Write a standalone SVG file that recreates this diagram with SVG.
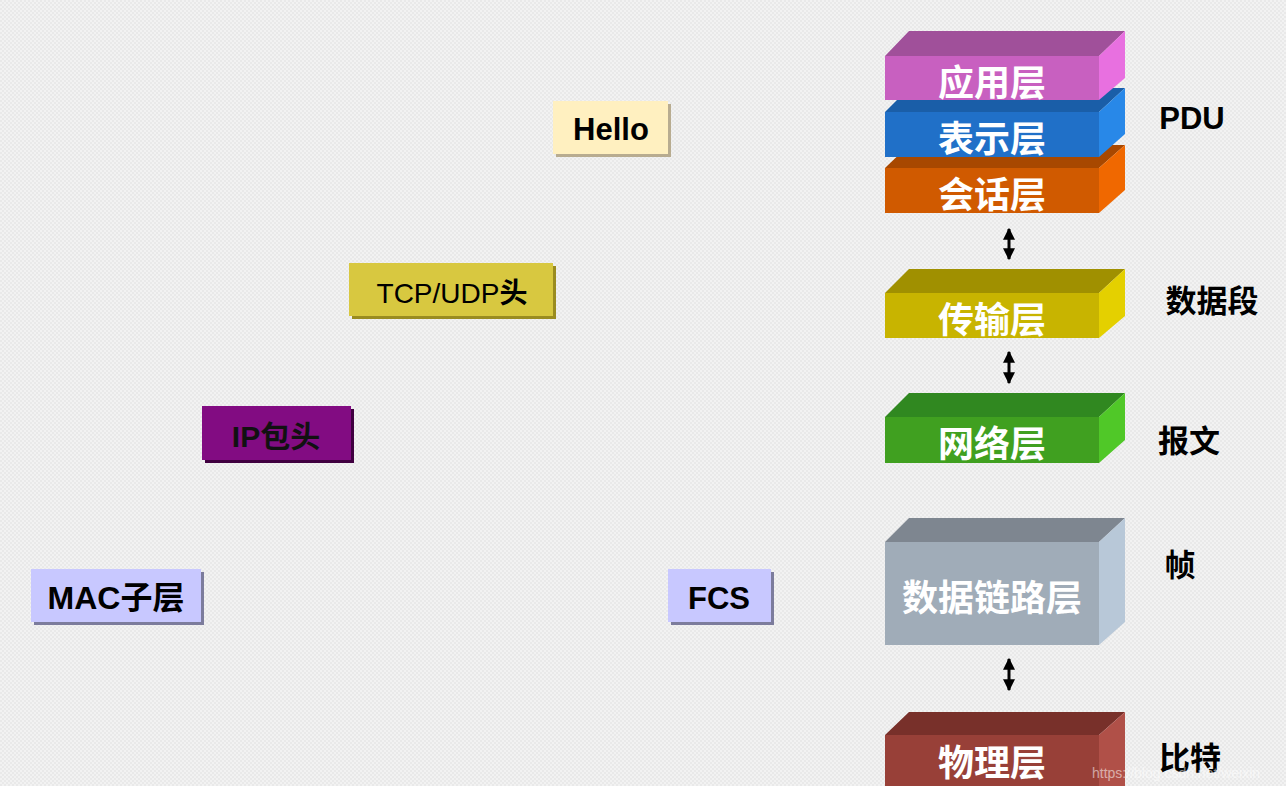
<svg xmlns="http://www.w3.org/2000/svg" width="1286" height="786" viewBox="0 0 1286 786">
<defs>
<pattern id="bg" width="4" height="4" patternUnits="userSpaceOnUse">
<rect width="4" height="4" fill="#f2f2f2"/>
<rect width="2" height="2" fill="#e9e9e9"/>
<rect x="2" y="2" width="2" height="2" fill="#e9e9e9"/>
</pattern>
<marker id="ah" viewBox="0 0 10 10" refX="9" refY="5" markerWidth="4" markerHeight="4" orient="auto-start-reverse">
<path d="M0,0 L10,5 L0,10 z" fill="#000"/>
</marker>
</defs>
<style>
.lt{font-family:"Liberation Sans","Noto Sans CJK SC",sans-serif;font-weight:bold;font-size:36px;fill:#fff;text-anchor:middle}
.bt{font-family:"Liberation Sans","Noto Sans CJK SC",sans-serif;font-weight:bold;font-size:31px;fill:#000;text-anchor:middle}
.rt{font-family:"Liberation Sans","Noto Sans CJK SC",sans-serif;font-weight:bold;font-size:31px;fill:#000;text-anchor:middle}
.conn{stroke:#000;stroke-width:3;fill:none}
</style>
<rect width="1286" height="786" fill="url(#bg)"/>

<g id="layer-physical">
<polygon points="885,735 909,712 1125,712 1099,735" fill="#78302a"/>
<polygon points="1099,735 1125,712 1125,786 1099,786" fill="#b05048"/>
<rect x="885" y="735" width="214" height="51" fill="#984038"/>
<text class="lt" x="992" y="776">物理层</text>
</g>

<g id="layer-datalink">
<polygon points="885,542 909,518 1125,518 1099,542" fill="#7e8690"/>
<polygon points="1099,542 1125,518 1125,622 1099,645" fill="#b8c8d8"/>
<rect x="885" y="542" width="214" height="103" fill="#a0acb8"/>
<text class="lt" x="992" y="611">数据链路层</text>
</g>

<g id="layer-network">
<polygon points="885,417 909,393 1125,393 1099,417" fill="#308820"/>
<polygon points="1099,417 1125,393 1125,440 1099,463" fill="#50c828"/>
<rect x="885" y="417" width="214" height="46" fill="#40a020"/>
<text class="lt" x="992" y="457">网络层</text>
</g>

<g id="layer-transport">
<polygon points="885,293 909,269 1125,269 1099,293" fill="#a09000"/>
<polygon points="1099,293 1125,269 1125,316 1099,338" fill="#e4d000"/>
<rect x="885" y="293" width="214" height="45" fill="#c8b400"/>
<text class="lt" x="992" y="333">传输层</text>
</g>

<g id="layer-session">
<polygon points="885,168 909,145 1125,145 1099,168" fill="#a84800"/>
<polygon points="1099,168 1125,145 1125,190 1099,213" fill="#f06800"/>
<rect x="885" y="168" width="214" height="45" fill="#d05a00"/>
<text class="lt" x="992" y="208">会话层</text>
</g>

<g id="layer-presentation">
<polygon points="885,112 909,88 1125,88 1099,112" fill="#1a5ea8"/>
<polygon points="1099,112 1125,88 1125,134 1099,157" fill="#2888e8"/>
<rect x="885" y="112" width="214" height="45" fill="#2070c8"/>
<text class="lt" x="992" y="152">表示层</text>
</g>

<g id="layer-application">
<polygon points="885,56 909,31 1125,31 1099,56" fill="#a0509a"/>
<polygon points="1099,56 1125,31 1125,78 1099,100" fill="#e870e0"/>
<rect x="885" y="56" width="214" height="44" fill="#c860c0"/>
<text class="lt" x="992" y="96">应用层</text>
</g>

<g id="connectors">
<line class="conn" x1="1009" y1="229" x2="1009" y2="259" marker-start="url(#ah)" marker-end="url(#ah)"/>
<line class="conn" x1="1009" y1="352" x2="1009" y2="383" marker-start="url(#ah)" marker-end="url(#ah)"/>
<line class="conn" x1="1009" y1="659" x2="1009" y2="690" marker-start="url(#ah)" marker-end="url(#ah)"/>
</g>

<g id="hello">
<rect x="556" y="104" width="115" height="53" fill="#b8ac90"/>
<rect x="553" y="101" width="115" height="53" fill="#fff0c0"/>
<text class="bt" x="611" y="140">Hello</text>
</g>

<g id="tcpudp">
<rect x="352" y="266" width="204" height="53" fill="#9a8c20"/>
<rect x="349" y="263" width="204" height="53" fill="#d8c840"/>
<text x="452" y="303" style="font-family:'Liberation Sans','Noto Sans CJK SC',sans-serif;font-size:28px;fill:#000;text-anchor:middle">TCP/UDP<tspan font-weight="bold">头</tspan></text>
</g>

<g id="iphead">
<rect x="205" y="409" width="149" height="54" fill="#400040"/>
<rect x="202" y="406" width="149" height="54" fill="#820c82"/>
<text class="bt" x="276" y="447" style="font-size:30px;fill:#111">IP包头</text>
</g>

<g id="mac">
<rect x="34" y="572" width="170" height="53" fill="#7c7c9c"/>
<rect x="31" y="569" width="170" height="53" fill="#c8c8ff"/>
<text class="bt" x="116" y="609" style="font-size:32px">MAC子层</text>
</g>

<g id="fcs">
<rect x="671" y="572" width="103" height="53" fill="#7c7c9c"/>
<rect x="668" y="569" width="103" height="53" fill="#c8c8ff"/>
<text class="bt" x="719" y="609">FCS</text>
</g>

<g id="labels">
<text class="rt" x="1192" y="129">PDU</text>
<text class="rt" x="1212" y="312">数据段</text>
<text class="rt" x="1189" y="452">报文</text>
<text class="rt" x="1180" y="576">帧</text>
<text class="rt" x="1190" y="769">比特</text>
</g>

<text x="1092" y="778" style="font-family:'Liberation Sans',sans-serif;font-size:14px;fill:#ffffff;fill-opacity:0.55">https://blog.csdn.net/weixin</text>
</svg>
